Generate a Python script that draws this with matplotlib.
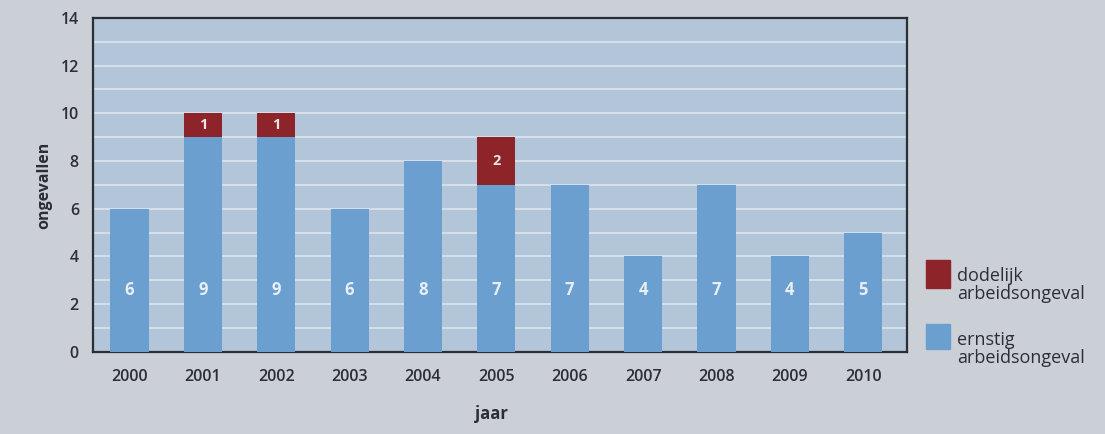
import matplotlib.pyplot as plt
import numpy as np

years = ["2000", "2001", "2002", "2003", "2004", "2005",
         "2006", "2007", "2008", "2009", "2010"]
ernstig = [6, 9, 9, 6, 8, 7, 7, 4, 7, 4, 5]
dodelijk = [0, 1, 1, 0, 0, 2, 0, 0, 0, 0, 0]

page_bg = "#cbcfd6"
plot_bg = "#b3c5d8"
blue = "#6b9fd0"
red = "#8c2429"
ink = "#2c2e36"

plt.rcParams["font.family"] = ["Open Sans", "DejaVu Sans"]

fig = plt.figure(figsize=(11.05, 4.34), dpi=100, facecolor=page_bg)
ax = fig.add_axes([0.084, 0.189, 0.737, 0.770])
ax.set_facecolor(plot_bg)

x = np.arange(len(years))
width = 0.52
ax.bar(x, ernstig, width, color=blue, zorder=3)
ax.bar(x, dodelijk, width, bottom=ernstig, color=red, zorder=3)

for xi, e, d in zip(x, ernstig, dodelijk):
    ax.text(xi, 2.6, str(e), ha="center", va="center", color="#e8eef5",
            fontsize=12, fontweight="bold", zorder=4)
    if d:
        ax.text(xi, e + d / 2, str(d), ha="center", va="center",
                color="#f0e4e4", fontsize=10.5, fontweight="bold", zorder=4)

ax.set_xlim(-0.5, 10.6)
ax.set_ylim(0, 14)
ax.set_yticks(range(0, 15, 2))
ax.set_yticks(range(0, 15), minor=True)
ax.grid(axis="y", which="both", color="#e4ebf2", linewidth=1.2, alpha=0.8, zorder=1)
ax.set_xticks(x)
ax.set_xticklabels(years)
ax.tick_params(axis="both", which="both", length=0, colors=ink, labelsize=11.5)
ax.tick_params(axis="x", pad=12)
ax.tick_params(axis="y", pad=10)
for lab in ax.get_xticklabels() + ax.get_yticklabels():
    lab.set_fontweight("semibold")

for side in ("left", "bottom", "right", "top"):
    ax.spines[side].set_color(ink)
    ax.spines[side].set_linewidth(1.6)

ax.set_xlabel("jaar", fontsize=12, fontweight="bold", color=ink)
ax.xaxis.set_label_coords(0.49, -0.16)
ax.set_ylabel("ongevallen", fontsize=11.5, fontweight="bold", color=ink)
ax.yaxis.set_label_coords(-0.05, 0.5)

# legend blocks on the right of the plot
lx, lw = 0.838, 0.022
fig.patches.append(plt.Rectangle((lx, 0.336), lw, 0.064, transform=fig.transFigure,
                                 color=red, zorder=5))
fig.patches.append(plt.Rectangle((lx, 0.196), lw, 0.058, transform=fig.transFigure,
                                 color=blue, zorder=5))
fig.text(0.866, 0.343, "dodelijk\narbeidsongeval", ha="left", va="center",
         fontsize=13, color=ink, linespacing=1.0)
fig.text(0.866, 0.196, "ernstig\narbeidsongeval", ha="left", va="center",
         fontsize=13, color=ink, linespacing=1.0)

fig.savefig("out.png", dpi=100, facecolor=page_bg)
